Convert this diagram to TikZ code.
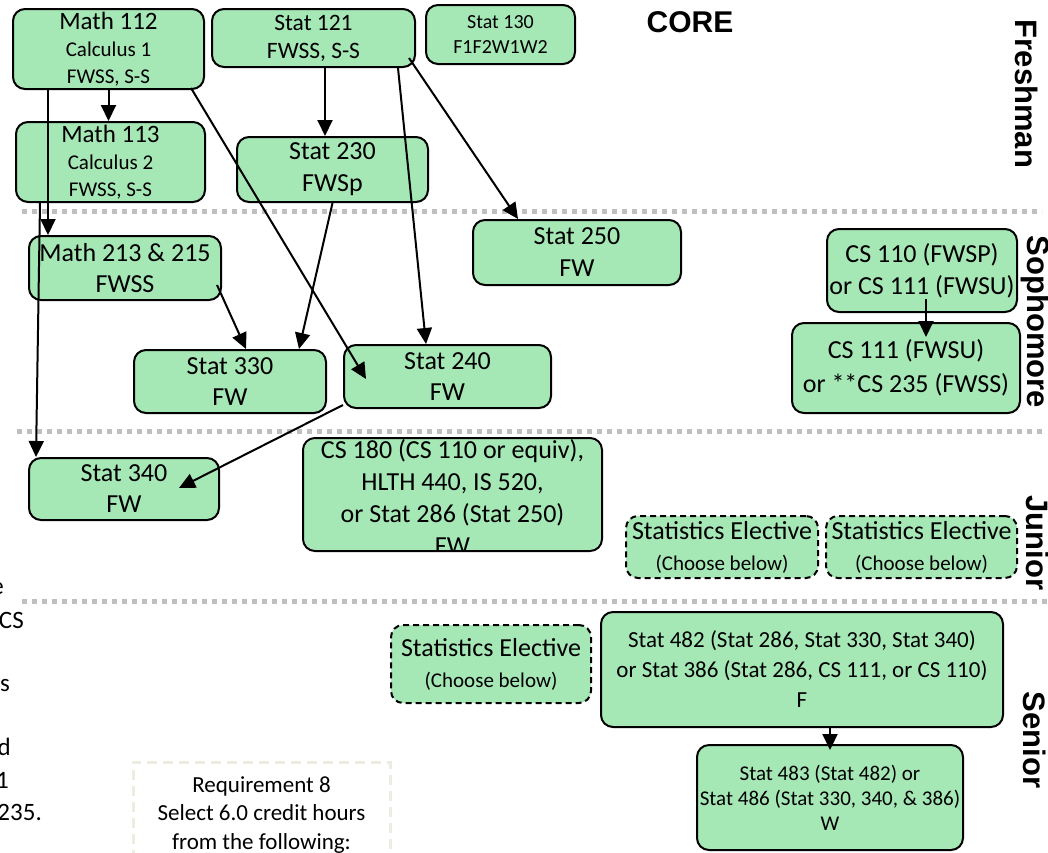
\documentclass[tikz,border=0pt]{standalone}
\usepackage{fontspec}
\setmainfont{Carlito}
\newfontfamily\yearfont{Liberation Sans}
\usetikzlibrary{arrows.meta}
\definecolor{boxgreen}{HTML}{A6E7B6}
\definecolor{sepgray}{HTML}{BFBFBF}
\definecolor{reqtan}{HTML}{EEECE1}

\begin{document}
\begin{tikzpicture}[x=1pt,y=-1pt,
course/.style={draw,rectangle,rounded corners=12pt,fill=boxgreen,line width=2pt,align=center,inner sep=0pt,font=\fontsize{26}{31}\selectfont},
elective/.style={course,dash pattern=on 6pt off 4pt},
reqbox/.style={draw=reqtan,rectangle,line width=3pt,dash pattern=on 10pt off 6pt,inner sep=0pt},
separator/.style={draw=sepgray,line width=5pt,dash pattern=on 5pt off 5pt},
year/.style={font=\yearfont\bfseries\fontsize{31}{31}\selectfont,rotate=-90,inner sep=0pt},
sidetext/.style={anchor=base east,inner sep=0pt,font=\fontsize{25}{25}\selectfont},
prereq/.style={-{Triangle[length=16pt,width=15pt]},line width=2pt}]

\useasboundingbox (0,0) rectangle (1048,852);

% year separators
\draw[separator] (22,211) -- (1042,211);
\draw[separator] (17,431) -- (1042,431);
\draw[separator] (22,601) -- (1048,601);

% freshman
\draw (108.5,49) node[course,minimum width=191pt,minimum height=80pt,font=\fontsize{21}{27}\selectfont] (m112) {{\fontsize{25}{27}\selectfont Math 112}\\Calculus 1\\FWSS, S-S};
\draw (313.5,38) node[course,minimum width=203pt,minimum height=58pt,font=\fontsize{23.5}{28}\selectfont] (s121) {Stat 121\\FWSS, S-S};
\draw (500.5,34.5) node[course,minimum width=149pt,minimum height=59pt,font=\fontsize{20}{25}\selectfont] (s130) {Stat 130\\F1F2W1W2};
\draw (690,22) node[font=\yearfont\bfseries\fontsize{30}{30}\selectfont] (core) {CORE};
\draw (110.5,162) node[course,minimum width=189pt,minimum height=80pt,font=\fontsize{21}{27}\selectfont] (m113) {{\fontsize{25}{27}\selectfont Math 113}\\Calculus 2\\FWSS, S-S};
\draw (332.5,169.5) node[course,minimum width=191pt,minimum height=65pt,font=\fontsize{26}{32}\selectfont] (s230) {Stat 230\\FWSp};

% sophomore
\draw (125,268) node[course,minimum width=192pt,minimum height=64pt] (m213) {Math 213 \& 215\\FWSS};
\draw (577,252.5) node[course,minimum width=208pt,minimum height=65pt,font=\fontsize{26}{32}\selectfont] (s250) {Stat 250\\FW};
\draw (922,270.5) node[course,minimum width=190pt,minimum height=83pt,font=\fontsize{26}{32}\selectfont] (cs110) {CS 110 (FWSP)\\or CS 111 (FWSU)};
\draw (906,368) node[course,minimum width=228pt,minimum height=90pt,font=\fontsize{26}{34}\selectfont] (cs111) {CS 111 (FWSU)\\or **CS 235 (FWSS)};
\draw (230,381.5) node[course,minimum width=192pt,minimum height=63pt] (s330) {Stat 330\\FW};
\draw (447.5,376.5) node[course,minimum width=207pt,minimum height=63pt] (s240) {Stat 240\\FW};

% junior
\draw (124,489) node[course,minimum width=190pt,minimum height=62pt] (s340) {Stat 340\\FW};
\draw (452.5,494.5) node[course,draw=none,minimum width=297pt,minimum height=111pt] (cs180) {};
\begin{scope}
\clip[rounded corners=12pt] (cs180.south west) rectangle (cs180.north east);
\draw (452.5,497) node[align=center,inner sep=0pt,font=\fontsize{26}{32}\selectfont] (cs180txt) {CS 180 (CS 110 or equiv),\\HLTH 440, IS 520,\\or Stat 286 (Stat 250)\\FW};
\end{scope}
\draw[line width=2pt,rounded corners=12pt] (cs180.south west) rectangle (cs180.north east);
\draw (722,547) node[elective,minimum width=192pt,minimum height=62pt] (elecA) {Statistics Elective\\\fontsize{21}{26}\selectfont(Choose below)};
\draw (921.5,547) node[elective,minimum width=191pt,minimum height=62pt] (elecB) {Statistics Elective\\\fontsize{21}{26}\selectfont(Choose below)};

% senior
\draw (491,664) node[elective,minimum width=200pt,minimum height=78pt] (elecC) {Statistics Elective\\\fontsize{21}{26}\selectfont(Choose below)};
\draw (802,669.5) node[course,minimum width=402pt,minimum height=115pt,font=\fontsize{23}{30}\selectfont] (s482) {Stat 482 (Stat 286, Stat 330, Stat 340)\\or Stat 386 (Stat 286, CS 111, or CS 110)\\F};
\draw (830,797.5) node[course,minimum width=266pt,minimum height=105pt,font=\fontsize{21}{25}\selectfont] (s483) {Stat 483 (Stat 482) or\\Stat 486 (Stat 330, 340, \& 386)\\W};
\draw (261.5,821) node[reqbox,minimum width=257pt,minimum height=118pt] (req8) {};
\draw (261.5,815) node[align=center,inner sep=0pt,font=\fontsize{23}{28.5}\selectfont] (req8txt) {Requirement 8\\Select 6.0 credit hours\\from the following:};

% year labels
\draw (1027,94) node[year] (fresh) {Freshman};
\draw (1035,322) node[year] (soph) {Sophomore};
\draw (1038,543) node[year] (jun) {Junior};
\draw (1035,740) node[year] (sen) {Senior};

% cut-off note at the left edge
\draw (4,594) node[sidetext] (note1) {e};
\draw (24,628) node[sidetext] (note2) {CS};
\draw (10,691) node[sidetext] (note3) {s};
\draw (11,755) node[sidetext] (note4) {d};
\draw (9,788) node[sidetext] (note5) {1};
\draw (42,820) node[sidetext] (note6) {235.};

% prerequisites
\draw[prereq] (m112.south) -- (m112.south |- m113.north);
\draw[prereq] ([xshift=36pt]m112.south west) -- ([xshift=20pt]m213.north west);
\draw[prereq] ([xshift=25pt]m113.south west) -- ([xshift=8pt]s340.north west);
\draw[prereq] ([xshift=-14pt,yshift=2pt]m112.south east) -- ([xshift=23pt,yshift=-35pt]s240.north west);
\draw[prereq] ([xshift=11.5pt]s121.south) -- ([xshift=-7.5pt]s230.north);
\draw[prereq] ([xshift=-18pt]s121.south east) -- ([xshift=83pt]s240.north west);
\draw[prereq] ([xshift=-7pt,yshift=10pt]s121.south east) -- ([xshift=46pt]s250.north west);
\draw[prereq] (s230.south) -- ([xshift=-28pt]s330.north east);
\draw[prereq] ([xshift=-5pt,yshift=16pt]m213.south east) -- ([xshift=113pt]s330.north west);
\draw[prereq] ([yshift=4pt]s240.south west) -- ([xshift=151pt,yshift=-31pt]s340.north west);
\draw[prereq] ([xshift=4pt,yshift=14pt]cs110.south) -- ([xshift=20pt,yshift=-15pt]cs111.north);
\draw[prereq] ([xshift=28pt]s482.south) -- ([yshift=-6pt]s483.north);
\end{tikzpicture}
\end{document}
